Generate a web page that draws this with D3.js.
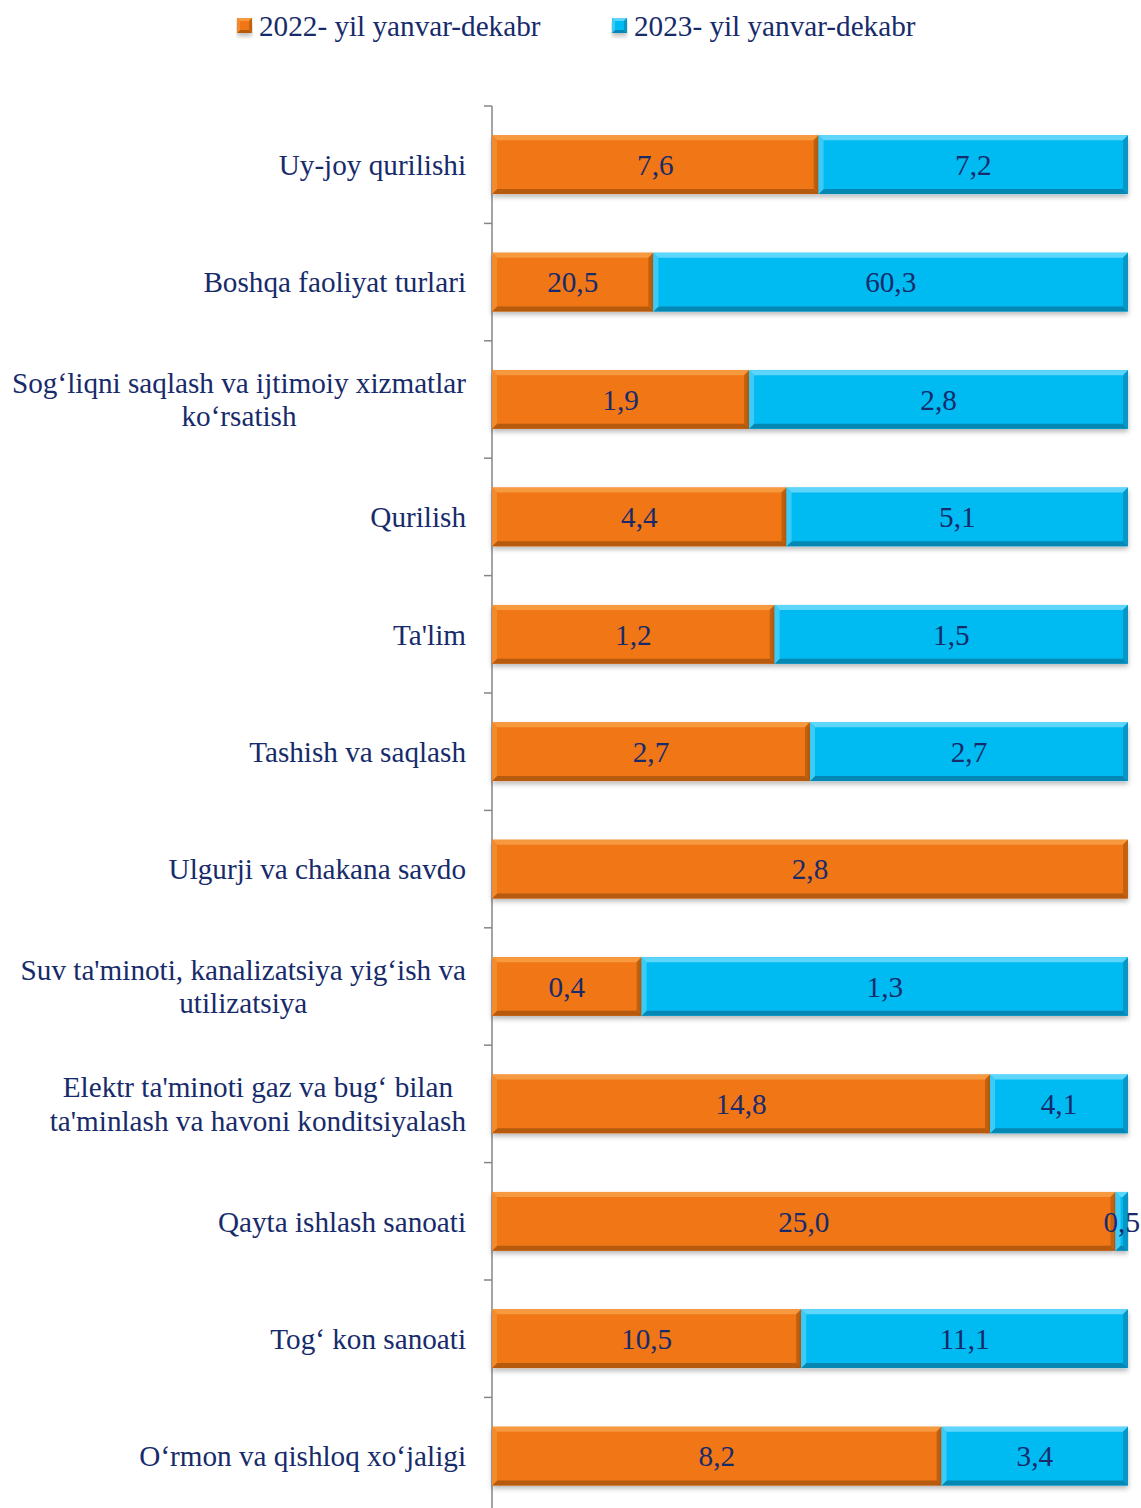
<!DOCTYPE html>
<html>
<head>
<meta charset="utf-8">
<script src="https://cdn.jsdelivr.net/npm/d3@7"></script>
<style>
html,body{margin:0;padding:0;background:#fff;}
svg{display:block;}
</style>
</head>
<body>
<svg id="chart" width="1141" height="1508"></svg>
<script>
const categories = [
  ["Uy-joy qurilishi"],
  ["Boshqa faoliyat turlari"],
  ["Sog\u2018liqni saqlash va ijtimoiy xizmatlar", "ko\u2018rsatish"],
  ["Qurilish"],
  ["Ta'lim"],
  ["Tashish va saqlash"],
  ["Ulgurji va chakana savdo"],
  ["Suv ta'minoti, kanalizatsiya yig\u2018ish va", "utilizatsiya"],
  ["Elektr ta'minoti gaz va bug\u2018 bilan", "ta'minlash va havoni konditsiyalash"],
  ["Qayta ishlash sanoati"],
  ["Tog\u2018 kon sanoati"],
  ["O\u2018rmon va qishloq xo\u2018jaligi"]
];
const seriesNames = ["2022- yil yanvar-dekabr", "2023- yil yanvar-dekabr"];
const values2022 = [7.6, 20.5, 1.9, 4.4, 1.2, 2.7, 2.8, 0.4, 14.8, 25.0, 10.5, 8.2];
const values2023 = [7.2, 60.3, 2.8, 5.1, 1.5, 2.7, null, 1.3, 4.1, 0.5, 11.1, 3.4];

const palettes = [
  {base:"#f07612", top:"#f6993f", bottom:"#b65a0e", left:"#f38a2c", right:"#c4620f"},
  {base:"#05baf2", top:"#5ed6fb", bottom:"#0487b3", left:"#3ccbf6", right:"#0697c6"}
];
const textColor = "#172b6b";
const font = "'Liberation Serif','Times New Roman',serif";
const fs = 29.2;

const svg = d3.select("#chart");
const defs = svg.append("defs");
const f = defs.append("filter").attr("id","sh").attr("x","-5%").attr("y","-20%").attr("width","110%").attr("height","160%");
f.append("feDropShadow").attr("dx",0).attr("dy",3).attr("stdDeviation",2.5).attr("flood-color","#000").attr("flood-opacity",0.28);

const keys = categories.map((c,i)=>"c"+i);
const y = d3.scaleBand().domain(keys).range([106, 106 + 12*117.4]).paddingInner(0.5).paddingOuter(0.25);
const x = d3.scaleLinear().domain([0,1]).range([492,1128]);

// axis line and ticks at band boundaries
const step = y.step();
const axisG = svg.append("g");
const bandStart = k => y(k) - y.paddingInner()*step/2;
const tickYs = keys.map(bandStart).concat([bandStart(keys[keys.length-1]) + step]);
axisG.append("line").attr("x1",x(0)).attr("x2",x(0)).attr("y1",tickYs[0]).attr("y2",tickYs[tickYs.length-1])
  .attr("stroke","#868686").attr("stroke-width",1.5);
axisG.selectAll("line.t").data(tickYs).join("line").attr("class","t")
  .attr("x1",x(0)-8).attr("x2",x(0)).attr("y1",d=>d).attr("y2",d=>d)
  .attr("stroke","#868686").attr("stroke-width",1.5);

function bevelBar(g, x0, x1, y0, y1, pal, bmax){
  const w = x1-x0, h=y1-y0;
  const b = Math.min(bmax||5, w/2, h/2);
  const grp = g.append("g");
  grp.append("rect").attr("x",x0).attr("y",y0).attr("width",w).attr("height",h).attr("fill",pal.base).attr("filter","url(#sh)");
  const poly = (pts, c) => grp.append("polygon").attr("points", pts.map(p=>p.join(",")).join(" ")).attr("fill",c);
  poly([[x0,y0],[x1,y0],[x1-b,y0+b],[x0+b,y0+b]], pal.top);
  poly([[x0,y1],[x1,y1],[x1-b,y1-b],[x0+b,y1-b]], pal.bottom);
  poly([[x0,y0],[x0+b,y0+b],[x0+b,y1-b],[x0,y1]], pal.left);
  poly([[x1,y0],[x1-b,y0+b],[x1-b,y1-b],[x1,y1]], pal.right);
}

const barsG = svg.append("g");
const labelsG = svg.append("g");
keys.forEach((k,i)=>{
  const vals = [values2022[i], values2023[i]];
  const total = d3.sum(vals.map(v=>v||0));
  let acc = 0;
  const y0 = y(k), y1 = y(k)+y.bandwidth();
  vals.forEach((v,s)=>{
    if(v==null) return;
    const a = x(acc/total), b = x((acc+v)/total);
    bevelBar(barsG, a, b, y0, y1, palettes[s]);
    labelsG.append("text").attr("x",(a+b)/2).attr("y",(y0+y1)/2).attr("dy","0.35em")
      .attr("text-anchor","middle").attr("font-family",font).attr("font-size",fs).attr("fill",textColor)
      .text(v.toFixed(1).replace(".",","));
    acc += v;
  });
});

// category labels
const catG = svg.append("g");
keys.forEach((k,i)=>{
  const lines = categories[i];
  const cy = y(k)+y.bandwidth()/2;
  const t = catG.append("text").attr("font-family",font).attr("font-size",fs).attr("fill",textColor).attr("text-anchor","middle");
  const lh = 33.5;
  const spans = lines.map((ln,j)=>t.append("tspan").attr("y", cy + (j-(lines.length-1)/2)*lh).attr("dy","0.35em").text(ln));
  const maxW = d3.max(spans.map(s=>s.node().getComputedTextLength()));
  const cx = 466 - maxW/2;
  spans.forEach(s=>s.attr("x",cx));
});

// legend
const legendX = [237, 612];
seriesNames.forEach((n,s)=>{
  bevelBar(svg, legendX[s], legendX[s]+15, 18, 33, palettes[s], 3);
  svg.append("text").attr("x",legendX[s]+22).attr("y",26).attr("dy","0.35em")
    .attr("font-family",font).attr("font-size",fs).attr("fill",textColor).text(n);
});
</script>
</body>
</html>
